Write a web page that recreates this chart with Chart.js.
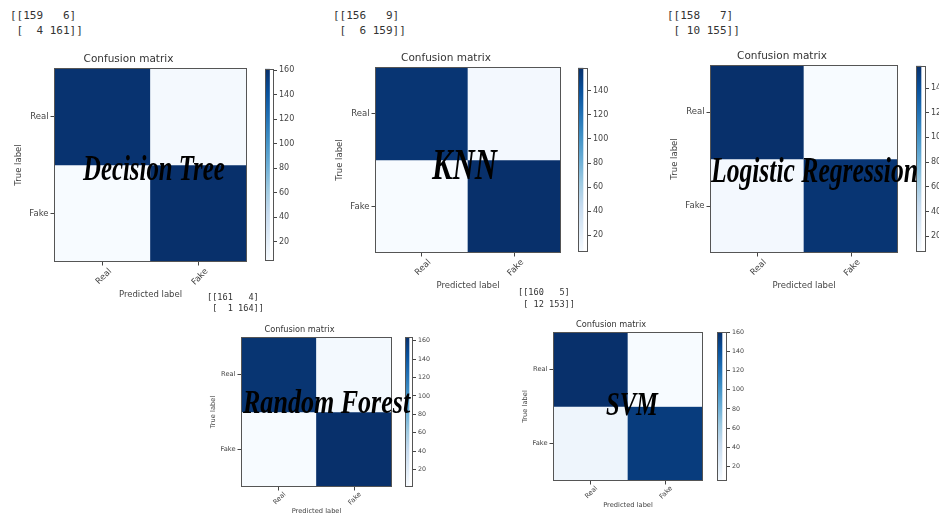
<!DOCTYPE html>
<html>
<head>
<meta charset="utf-8">
<script src="https://cdn.jsdelivr.net/npm/chart.js@4"></script>
<style>
  body { margin: 0; width: 939px; height: 515px; background: #fff; position: relative; overflow: hidden; font-family: "DejaVu Sans"; }
  canvas { position: absolute; }
  .mat { position: absolute; font-family: "DejaVu Sans Mono"; white-space: pre; color: #333; }
  .name { position: absolute; font-family: "Liberation Serif"; font-style: italic; font-weight: bold; color: #000;
          white-space: nowrap; line-height: 1; transform-origin: 0 50%; }
</style>
</head>
<body>
<script>
// confusion matrices, rows = true label, cols = predicted label
const classes = ["Real", "Fake"];
const dtMatrix = [[159, 6], [4, 161]];
const knnMatrix = [[156, 9], [6, 159]];
const lrMatrix = [[158, 7], [10, 155]];
const rfMatrix = [[161, 4], [1, 164]];
const svmMatrix = [[160, 5], [12, 153]];

// colorbar tick labels
const dtTicks = [20, 40, 60, 80, 100, 120, 140, 160];
const knnTicks = [20, 40, 60, 80, 100, 120, 140];
const lrTicks = [20, 40, 60, 80, 100, 120, 140];
const rfTicks = [20, 40, 60, 80, 100, 120, 140, 160];
const svmTicks = [20, 40, 60, 80, 100, 120, 140, 160];

const modelNames = ["Decision Tree", "KNN", "Logistic Regression", "Random Forest", "SVM"];

// matplotlib "Blues"
const blueStops = ["#f7fbff", "#deebf7", "#c6dbef", "#9ecae1", "#6baed6", "#4292c6", "#2171b5", "#08519c", "#08306b"];

function hexRgb(h) {
    return [1, 3, 5].map(i => parseInt(h.substr(i, 2), 16));
}

function blues(t) {
    t = Math.max(0, Math.min(1, t));
    const pos = t * (blueStops.length - 1);
    const i = Math.min(Math.floor(pos), blueStops.length - 2);
    const f = pos - i;
    const a = hexRgb(blueStops[i]), b = hexRgb(blueStops[i + 1]);
    const c = a.map((v, k) => Math.round(v + (b[k] - v) * f));
    return `rgb(${c[0]},${c[1]},${c[2]})`;
}

// box around plot area (matplotlib spines)
const frame = {
    id: "frame",
    afterDatasetsDraw(chart) {
        const a = chart.chartArea, ctx = chart.ctx;
        ctx.save();
        ctx.strokeStyle = "#555";
        ctx.lineWidth = 1;
        ctx.strokeRect(Math.round(a.left) + 0.5, Math.round(a.top) + 0.5,
            Math.round(a.right - a.left) - 1, Math.round(a.bottom - a.top) - 1);
        ctx.restore();
    }
};

const big = { title: 10.5, tick: 8.5, cb: 8, mono: 11, lineH: 15, yW: 44, xH: 42, pad: 2, off: 8, ytp: 4, tp: 1 };
const small = { title: 8.2, tick: 6.7, cb: 6.3, mono: 8.6, lineH: 11.5, yW: 34, xH: 32, pad: 2, off: 6, ytp: 2, tp: 0 };

const panels = [
    { matrix: dtMatrix, ticks: dtTicks, name: modelNames[0], s: big,
      plot: [54, 68, 247, 262], cb: [265, 274], text: [10, 7.5], label: [83, 225, 168, 36] },
    { matrix: knnMatrix, ticks: knnTicks, name: modelNames[1], s: big,
      plot: [375, 67, 561, 253], cb: [578, 588], text: [333, 7.5], label: [432, 497, 165, 44] },
    { matrix: lrMatrix, ticks: lrTicks, name: modelNames[2], s: big,
      plot: [710, 65, 898, 253], cb: [916, 926], text: [667, 7.5], label: [711, 918, 170, 36] },
    { matrix: rfMatrix, ticks: rfTicks, name: modelNames[3], s: small,
      plot: [241, 337, 392, 487], cb: [405, 413], text: [207, 291.5], label: [243, 410, 402, 34] },
    { matrix: svmMatrix, ticks: svmTicks, name: modelNames[4], s: small,
      plot: [553, 332, 703, 481], cb: [717, 727], text: [518, 287], label: [606, 658, 404, 34] }
];

function makeCanvas(left, top, w, h) {
    const c = document.createElement("canvas");
    c.width = w; c.height = h;
    c.style.left = left + "px"; c.style.top = top + "px";
    c.style.width = w + "px"; c.style.height = h + "px";
    document.body.appendChild(c);
    return c.getContext("2d");
}

function drawPanel(p) {
    const s = p.s;
    const [l, t, r, b] = p.plot;
    const vals = p.matrix.flat();
    const vmin = Math.min(...vals), vmax = Math.max(...vals);
    const color = v => blues((v - vmin) / (vmax - vmin));

    // numpy printout above the plot
    const pre = document.createElement("div");
    pre.className = "mat";
    pre.style.left = p.text[0] + "px";
    pre.style.top = p.text[1] + "px";
    pre.style.fontSize = s.mono + "px";
    pre.style.lineHeight = s.lineH + "px";
    pre.textContent = p.matrix.map((row, i) =>
        (i === 0 ? "[[" : " [") + row.map(v => String(v).padStart(3)).join(" ") + (i === p.matrix.length - 1 ? "]]" : "]")
    ).join("\n");
    document.body.appendChild(pre);

    // heatmap
    const lh = Math.round(s.title * 1.2);
    const titleH = lh + s.pad;
    const w = s.yW + (r - l) + 2;
    const h = titleH + (b - t) + s.xH;
    const ctx = makeCanvas(l - s.yW, t - titleH, w, h);
    const axisFont = { family: "DejaVu Sans", size: s.tick };

    new Chart(ctx, {
        type: "bar",
        data: {
            labels: classes,
            datasets: p.matrix.map((row, i) => ({
                data: row.map(() => [i, i + 1]),
                backgroundColor: row.map(color),
                borderWidth: 0,
                barPercentage: 1,
                categoryPercentage: 1,
                grouped: false
            }))
        },
        options: {
            responsive: false,
            animation: false,
            layout: { padding: { top: 0, right: 2, bottom: 0, left: 0 } },
            plugins: {
                legend: { display: false },
                tooltip: { enabled: false },
                title: {
                    display: true,
                    text: "Confusion matrix",
                    color: "#333",
                    font: { family: "DejaVu Sans", size: s.title, weight: "normal", lineHeight: lh + "px" },
                    padding: { top: 0, bottom: s.pad }
                }
            },
            scales: {
                x: {
                    offset: true,
                    border: { display: false },
                    grid: { offset: false, drawOnChartArea: false, tickLength: 3.5, color: "#444" },
                    ticks: { color: "#444", font: axisFont, minRotation: 45, maxRotation: 45, labelOffset: s.off, padding: s.tp },
                    title: { display: true, text: "Predicted label", color: "#444", font: axisFont, padding: { top: 2, bottom: 4 } },
                    afterFit: sc => { sc.height = s.xH; }
                },
                y: {
                    type: "linear",
                    min: 0,
                    max: 2,
                    reverse: true,
                    border: { display: false },
                    grid: { drawOnChartArea: false, tickLength: 3.5, color: "#444" },
                    afterBuildTicks: sc => { sc.ticks = classes.map((c, i) => ({ value: i + 0.5 })); },
                    ticks: { color: "#444", font: axisFont, padding: 2, callback: v => classes[Math.floor(v)] },
                    title: { display: true, text: "True label", color: "#444", font: axisFont, padding: { top: s.ytp, bottom: 0 } },
                    afterFit: sc => { sc.width = s.yW; }
                }
            }
        },
        plugins: [frame]
    });

    // colorbar
    const [cl, cr] = p.cb;
    const cbw = cr - cl;
    const labW = 30;
    const cctx = makeCanvas(cl, t - 6, cbw + labW, (b - t) + 12);
    new Chart(cctx, {
        type: "bar",
        data: {
            labels: [""],
            datasets: [{
                data: [[vmin, vmax]],
                borderWidth: 0,
                barPercentage: 1,
                categoryPercentage: 1,
                backgroundColor: c => {
                    const a = c.chart.chartArea;
                    if (!a) return blueStops[4];
                    const g = c.chart.ctx.createLinearGradient(0, a.bottom, 0, a.top);
                    blueStops.forEach((col, k) => g.addColorStop(k / (blueStops.length - 1), col));
                    return g;
                }
            }]
        },
        options: {
            responsive: false,
            animation: false,
            layout: { padding: { top: 6, right: 0, bottom: 6, left: 0 } },
            plugins: { legend: { display: false }, tooltip: { enabled: false } },
            scales: {
                x: { display: false, offset: false },
                y: {
                    position: "right",
                    min: vmin,
                    max: vmax,
                    border: { display: false },
                    grid: { drawOnChartArea: false, tickLength: 3, color: "#444" },
                    afterBuildTicks: sc => { sc.ticks = p.ticks.map(v => ({ value: v })); },
                    ticks: { color: "#444", font: { family: "DejaVu Sans", size: s.cb }, padding: 2 },
                    afterFit: sc => { sc.width = labW; }
                }
            }
        },
        plugins: [frame]
    });

    // model name written over the matrix
    const [x0, x1, cy, fs] = p.label;
    const span = document.createElement("span");
    span.className = "name";
    span.style.fontSize = fs + "px";
    span.textContent = p.name;
    document.body.appendChild(span);
    const sw = span.offsetWidth;
    span.style.left = x0 + "px";
    span.style.top = (cy - fs * 0.5) + "px";
    span.style.transform = `scaleX(${(x1 - x0) / sw})`;
}

panels.forEach(drawPanel);
</script>
</body>
</html>
